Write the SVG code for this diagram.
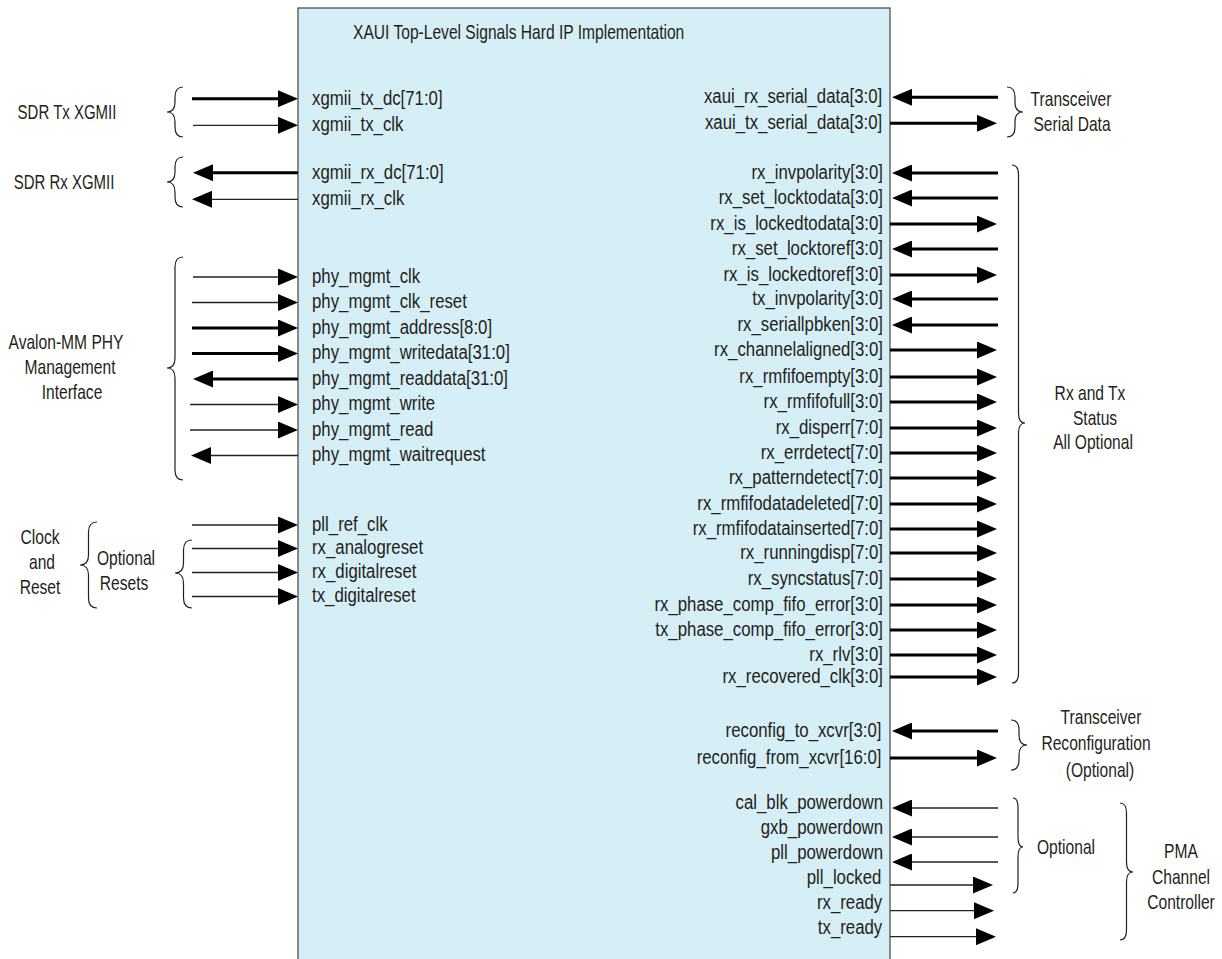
<svg xmlns="http://www.w3.org/2000/svg" width="1222" height="959" viewBox="0 0 1222 959">
<defs>
<style>
text{font-family:"Liberation Sans",Arial,sans-serif;fill:#231f20}
.sig{font-size:21px}
.sr{font-size:21px;text-anchor:end}
.lab{font-size:20px;text-anchor:middle}
.title{font-size:20px}
.thick{stroke:#000;stroke-width:3;fill:none;marker-end:url(#ah)}
.thin{stroke:#222;stroke-width:1.3;fill:none;marker-end:url(#ah)}
.brace{stroke:#231f20;stroke-width:1.2;fill:none}
</style>
<marker id="ah" markerUnits="userSpaceOnUse" markerWidth="20" markerHeight="17" viewBox="0 0 20 17" refX="10" refY="8.5" orient="auto"><path d="M0,0L20,8.5L0,17Z" fill="#000"/></marker>
</defs>
<rect width="1222" height="959" fill="#fff"/>
<g id="block">
<rect x="298" y="8" width="592" height="960" fill="#d6eef6" stroke="#444" stroke-width="1.2"/>
<text class="title" transform="translate(353 0) scale(0.78 1)" x="0" y="39">XAUI Top-Level Signals Hard IP Implementation</text>
<g id="left-ports" transform="translate(312 0) scale(0.8 1)">
<text class="sig" x="0" y="105">xgmii_tx_dc[71:0]</text>
<text class="sig" x="0" y="131">xgmii_tx_clk</text>
<text class="sig" x="0" y="179">xgmii_rx_dc[71:0]</text>
<text class="sig" x="0" y="205">xgmii_rx_clk</text>
<text class="sig" x="0" y="283">phy_mgmt_clk</text>
<text class="sig" x="0" y="308.5">phy_mgmt_clk_reset</text>
<text class="sig" x="0" y="334">phy_mgmt_address[8:0]</text>
<text class="sig" x="0" y="359.5">phy_mgmt_writedata[31:0]</text>
<text class="sig" x="0" y="385">phy_mgmt_readdata[31:0]</text>
<text class="sig" x="0" y="410.5">phy_mgmt_write</text>
<text class="sig" x="0" y="436">phy_mgmt_read</text>
<text class="sig" x="0" y="461.5">phy_mgmt_waitrequest</text>
<text class="sig" x="0" y="531">pll_ref_clk</text>
<text class="sig" x="0" y="554.5">rx_analogreset</text>
<text class="sig" x="0" y="578.5">rx_digitalreset</text>
<text class="sig" x="0" y="602.5">tx_digitalreset</text>
</g>
<g id="right-ports" transform="translate(883 0) scale(0.8 1)">
<text class="sr" x="-1" y="103.3">xaui_rx_serial_data[3:0]</text>
<text class="sr" x="-1" y="129.3">xaui_tx_serial_data[3:0]</text>
<text class="sr" x="0" y="179">rx_invpolarity[3:0]</text>
<text class="sr" x="0" y="204">rx_set_locktodata[3:0]</text>
<text class="sr" x="0" y="230">rx_is_lockedtodata[3:0]</text>
<text class="sr" x="0" y="255">rx_set_locktoref[3:0]</text>
<text class="sr" x="0" y="281">rx_is_lockedtoref[3:0]</text>
<text class="sr" x="0" y="305">tx_invpolarity[3:0]</text>
<text class="sr" x="0" y="331">rx_seriallpbken[3:0]</text>
<text class="sr" x="0" y="356">rx_channelaligned[3:0]</text>
<text class="sr" x="0" y="383">rx_rmfifoempty[3:0]</text>
<text class="sr" x="0" y="408">rx_rmfifofull[3:0]</text>
<text class="sr" x="0" y="434">rx_disperr[7:0]</text>
<text class="sr" x="0" y="459">rx_errdetect[7:0]</text>
<text class="sr" x="0" y="484">rx_patterndetect[7:0]</text>
<text class="sr" x="0" y="510">rx_rmfifodatadeleted[7:0]</text>
<text class="sr" x="0" y="535">rx_rmfifodatainserted[7:0]</text>
<text class="sr" x="0" y="559">rx_runningdisp[7:0]</text>
<text class="sr" x="0" y="585">rx_syncstatus[7:0]</text>
<text class="sr" x="0" y="611">rx_phase_comp_fifo_error[3:0]</text>
<text class="sr" x="0" y="636">tx_phase_comp_fifo_error[3:0]</text>
<text class="sr" x="0" y="661">rx_rlv[3:0]</text>
<text class="sr" x="0" y="683">rx_recovered_clk[3:0]</text>
<text class="sr" x="-2" y="737">reconfig_to_xcvr[3:0]</text>
<text class="sr" x="-2" y="764">reconfig_from_xcvr[16:0]</text>
<text class="sr" x="0" y="809">cal_blk_powerdown</text>
<text class="sr" x="0" y="834">gxb_powerdown</text>
<text class="sr" x="0" y="859">pll_powerdown</text>
<text class="sr" x="-2" y="884">pll_locked</text>
<text class="sr" x="-1" y="909">rx_ready</text>
<text class="sr" x="-1" y="934">tx_ready</text>
</g>
</g>
<g id="connectors">
<line class="thick" x1="192" y1="98.7" x2="288" y2="98.7"/>
<line class="thin" x1="193" y1="125.3" x2="288" y2="125.3"/>
<line class="thick" x1="298" y1="172.7" x2="203" y2="172.7"/>
<line class="thin" x1="298" y1="199.3" x2="202" y2="199.3"/>
<line class="thin" x1="193" y1="277" x2="288" y2="277"/>
<line class="thin" x1="192" y1="302.5" x2="288" y2="302.5"/>
<line class="thick" x1="192" y1="328" x2="288" y2="328"/>
<line class="thick" x1="192" y1="353.5" x2="288" y2="353.5"/>
<line class="thick" x1="298" y1="379" x2="203" y2="379"/>
<line class="thin" x1="190" y1="404.5" x2="288" y2="404.5"/>
<line class="thin" x1="190" y1="430" x2="288" y2="430"/>
<line class="thin" x1="298" y1="455.5" x2="201" y2="455.5"/>
<line class="thin" x1="192" y1="525" x2="288" y2="525"/>
<line class="thin" x1="192" y1="548.5" x2="288" y2="548.5"/>
<line class="thin" x1="192" y1="572.5" x2="288" y2="572.5"/>
<line class="thin" x1="192" y1="596.5" x2="288" y2="596.5"/>
<line class="thick" x1="998" y1="97.3" x2="902" y2="97.3"/>
<line class="thick" x1="890" y1="123.3" x2="987" y2="123.3"/>
<line class="thick" x1="998" y1="173" x2="902" y2="173"/>
<line class="thick" x1="998" y1="198" x2="902" y2="198"/>
<line class="thick" x1="890" y1="224" x2="987" y2="224"/>
<line class="thick" x1="998" y1="249" x2="902" y2="249"/>
<line class="thick" x1="890" y1="275" x2="987" y2="275"/>
<line class="thick" x1="998" y1="299" x2="902" y2="299"/>
<line class="thick" x1="998" y1="325" x2="902" y2="325"/>
<line class="thick" x1="890" y1="350" x2="987" y2="350"/>
<line class="thick" x1="890" y1="377" x2="987" y2="377"/>
<line class="thick" x1="890" y1="402" x2="987" y2="402"/>
<line class="thick" x1="890" y1="428" x2="987" y2="428"/>
<line class="thick" x1="890" y1="453" x2="987" y2="453"/>
<line class="thick" x1="890" y1="478" x2="987" y2="478"/>
<line class="thick" x1="890" y1="504" x2="987" y2="504"/>
<line class="thick" x1="890" y1="529" x2="987" y2="529"/>
<line class="thick" x1="890" y1="553" x2="987" y2="553"/>
<line class="thick" x1="890" y1="579" x2="987" y2="579"/>
<line class="thick" x1="890" y1="605" x2="987" y2="605"/>
<line class="thick" x1="890" y1="630" x2="987" y2="630"/>
<line class="thick" x1="890" y1="655" x2="987" y2="655"/>
<line class="thick" x1="890" y1="677" x2="987" y2="677"/>
<line class="thick" x1="998" y1="731" x2="902" y2="731"/>
<line class="thick" x1="890" y1="758" x2="987" y2="758"/>
<line class="thin" x1="998" y1="808" x2="902" y2="808"/>
<line class="thin" x1="998" y1="837" x2="902" y2="837"/>
<line class="thin" x1="998" y1="862" x2="902" y2="862"/>
<line class="thin" x1="890" y1="885" x2="983" y2="885"/>
<line class="thin" x1="890" y1="910.7" x2="984" y2="910.7"/>
<line class="thin" x1="890" y1="936.7" x2="986" y2="936.7"/>
</g>
<g id="sdr-tx">
<path class="brace" d="M183,87 Q175,87 175,97 L175,102 Q175,112 167,112 Q175,112 175,122 L175,127 Q175,137 183,137"/>
<text class="lab" transform="translate(67 0) scale(0.75 1)" x="0" y="119">SDR Tx XGMII</text>
</g>
<g id="sdr-rx">
<path class="brace" d="M183,157 Q175,157 175,167 L175,172 Q175,182 167,182 Q175,182 175,192 L175,197 Q175,207 183,207"/>
<text class="lab" transform="translate(64 0) scale(0.75 1)" x="0" y="189">SDR Rx XGMII</text>
</g>
<g id="avalon-mm">
<path class="brace" d="M183,257 Q175,257 175,267 L175,358 Q175,368 167,368 Q175,368 175,378 L175,470 Q175,480 183,480"/>
<text class="lab" transform="translate(66 0) scale(0.78 1)" x="0" y="349">Avalon-MM PHY</text>
<text class="lab" transform="translate(70 0) scale(0.78 1)" x="0" y="374">Management</text>
<text class="lab" transform="translate(72 0) scale(0.78 1)" x="0" y="399">Interface</text>
</g>
<g id="clock-reset">
<path class="brace" d="M97,522 Q88.5,522 88.5,532 L88.5,555 Q88.5,565 80,565 Q88.5,565 88.5,575 L88.5,598 Q88.5,608 97,608"/>
<text class="lab" transform="translate(40 0) scale(0.78 1)" x="0" y="544">Clock</text>
<text class="lab" transform="translate(42 0) scale(0.78 1)" x="0" y="569">and</text>
<text class="lab" transform="translate(40 0) scale(0.78 1)" x="0" y="594">Reset</text>
</g>
<g id="optional-resets">
<path class="brace" d="M192,540 Q183.5,540 183.5,550 L183.5,563 Q183.5,573 175,573 Q183.5,573 183.5,583 L183.5,598 Q183.5,608 192,608"/>
<text class="lab" transform="translate(126 0) scale(0.78 1)" x="0" y="565">Optional</text>
<text class="lab" transform="translate(124 0) scale(0.78 1)" x="0" y="590">Resets</text>
</g>
<g id="serial-data">
<path class="brace" d="M1007,87 Q1015,87 1015,97 L1015,102 Q1015,112 1023,112 Q1015,112 1015,122 L1015,127 Q1015,137 1007,137"/>
<text class="lab" transform="translate(1071 0) scale(0.78 1)" x="0" y="106">Transceiver</text>
<text class="lab" transform="translate(1072 0) scale(0.78 1)" x="0" y="131">Serial Data</text>
</g>
<g id="status">
<path class="brace" d="M1012,165 Q1018.5,165 1018.5,175 L1018.5,413 Q1018.5,423 1025,423 Q1018.5,423 1018.5,433 L1018.5,673 Q1018.5,683 1012,683"/>
<text class="lab" transform="translate(1090 0) scale(0.78 1)" x="0" y="400">Rx and Tx</text>
<text class="lab" transform="translate(1095 0) scale(0.78 1)" x="0" y="425">Status</text>
<text class="lab" transform="translate(1093 0) scale(0.78 1)" x="0" y="449">All Optional</text>
</g>
<g id="reconfig">
<path class="brace" d="M1011,720 Q1019,720 1019,730 L1019,735 Q1019,745 1027,745 Q1019,745 1019,755 L1019,760 Q1019,770 1011,770"/>
<text class="lab" transform="translate(1101 0) scale(0.78 1)" x="0" y="724">Transceiver</text>
<text class="lab" transform="translate(1096 0) scale(0.78 1)" x="0" y="750">Reconfiguration</text>
<text class="lab" transform="translate(1100 0) scale(0.78 1)" x="0" y="777">(Optional)</text>
</g>
<g id="optional-pma">
<path class="brace" d="M1013,798 Q1018,798 1018,808 L1018,837 Q1018,847 1023,847 Q1018,847 1018,857 L1018,883 Q1018,893 1013,893"/>
<text class="lab" transform="translate(1066 0) scale(0.78 1)" x="0" y="854">Optional</text>
</g>
<g id="pma-controller">
<path class="brace" d="M1120,803 Q1126.5,803 1126.5,813 L1126.5,862 Q1126.5,872 1133,872 Q1126.5,872 1126.5,882 L1126.5,930 Q1126.5,940 1120,940"/>
<text class="lab" transform="translate(1181 0) scale(0.78 1)" x="0" y="858">PMA</text>
<text class="lab" transform="translate(1181 0) scale(0.78 1)" x="0" y="884">Channel</text>
<text class="lab" transform="translate(1181 0) scale(0.78 1)" x="0" y="909">Controller</text>
</g>
</svg>
